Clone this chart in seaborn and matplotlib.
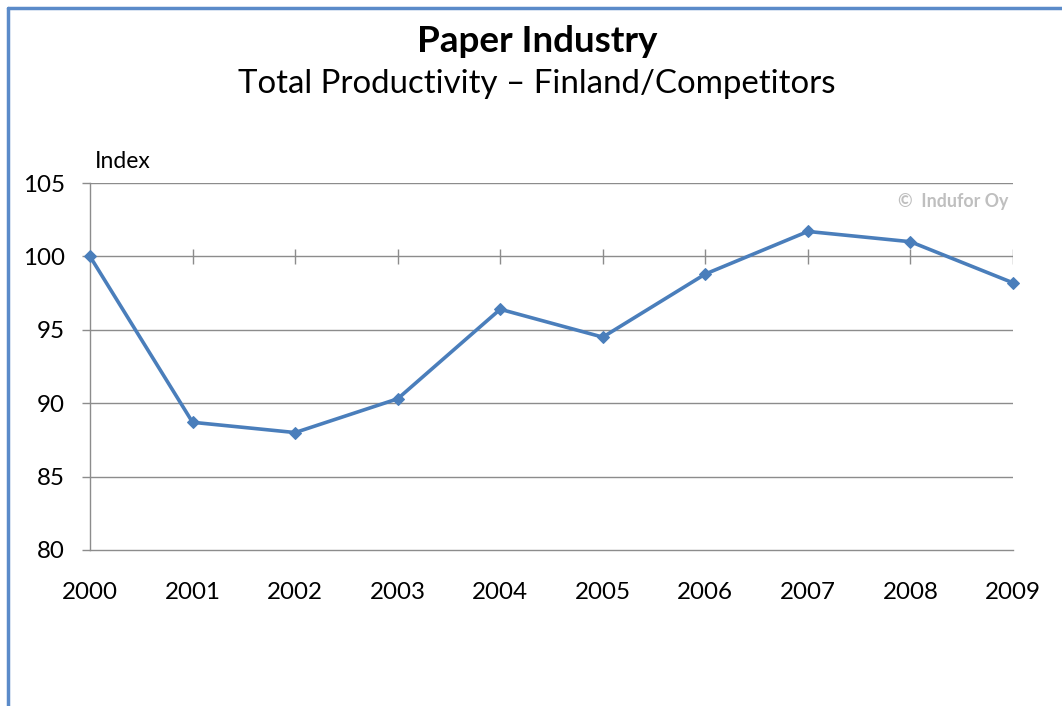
import matplotlib
matplotlib.use("Agg")
import matplotlib.pyplot as plt
import seaborn as sns
import pandas as pd
from matplotlib.lines import Line2D

# data
years = [2000, 2001, 2002, 2003, 2004, 2005, 2006, 2007, 2008, 2009]
productivity = [100.0, 88.7, 88.0, 90.3, 96.4, 94.5, 98.8, 101.7, 101.0, 98.2]
y_ticks = [80, 85, 90, 95, 100, 105]

title = "Paper Industry"
subtitle = "Total Productivity \u2013 Finland/Competitors"
y_label = "Index"
watermark = "\u00a9  Indufor Oy"

df = pd.DataFrame({"year": years, "index": productivity})

sns.set_style("white")
plt.rcParams["font.family"] = ["Lato", "DejaVu Sans"]
plt.rcParams["text.color"] = "black"
plt.rcParams["xtick.color"] = "black"
plt.rcParams["ytick.color"] = "black"

line_blue = "#4A7EBB"
grid_grey = "#8C8C8C"

fig = plt.figure(figsize=(10.62, 7.06), dpi=100)
ax = fig.add_axes([90 / 1062, 1 - 550 / 706, (1013 - 90) / 1062, (550 - 183) / 706])

# horizontal gridlines (the 100 line doubles as the category axis)
for v in y_ticks[1:]:
    ax.axhline(v, color=grid_grey, lw=1.0, zorder=1)
# category tick marks crossing the 100 line
ax.vlines(years[1:], 99.5, 100.5, color=grid_grey, lw=1.0, zorder=1)

sns.lineplot(data=df, x="year", y="index", ax=ax, color=line_blue, lw=2.6,
             marker="D", markersize=6.5, markeredgecolor=line_blue, zorder=3,
             clip_on=False)

ax.set_xlim(years[0], years[-1])
ax.set_ylim(y_ticks[0], y_ticks[-1])
ax.set_xticks(years)
ax.set_xticklabels([str(y) for y in years])
ax.set_yticks(y_ticks)
ax.set_xlabel("")
ax.set_ylabel("")

for side in ["top", "right"]:
    ax.spines[side].set_visible(False)
for side in ["left", "bottom"]:
    ax.spines[side].set_color(grid_grey)
    ax.spines[side].set_linewidth(1.0)

ax.tick_params(axis="y", direction="out", length=6, width=1.0, color=grid_grey,
               labelcolor="black", labelsize=17.4, pad=12, left=True)
ax.tick_params(axis="x", length=0, labelsize=17.4, labelcolor="black", pad=23)

ax.text(0.005, 1.03, y_label, transform=ax.transAxes, fontsize=16.5,
        ha="left", va="bottom")
ax.text(0.995, 0.95, watermark, transform=ax.transAxes, fontsize=12.8,
        fontweight="bold", color="#BFBFBF", ha="right", va="center")

fig.text(537 / 1062, 1 - 41 / 706, title, fontsize=26.5, fontweight="bold",
         ha="center", va="center")
fig.text(537 / 1062, 1 - 84 / 706, subtitle, fontsize=23.8,
         ha="center", va="center")

# chart frame (only top and left edges visible in the reference)
fig.add_artist(Line2D([8 / 1062, 1.0], [1 - 8 / 706, 1 - 8 / 706],
                      transform=fig.transFigure, color="#5B8BC9", lw=2.5))
fig.add_artist(Line2D([8 / 1062, 8 / 1062], [0.0, 1 - 8 / 706],
                      transform=fig.transFigure, color="#5B8BC9", lw=2.5))

fig.savefig("out.png", dpi=100)
